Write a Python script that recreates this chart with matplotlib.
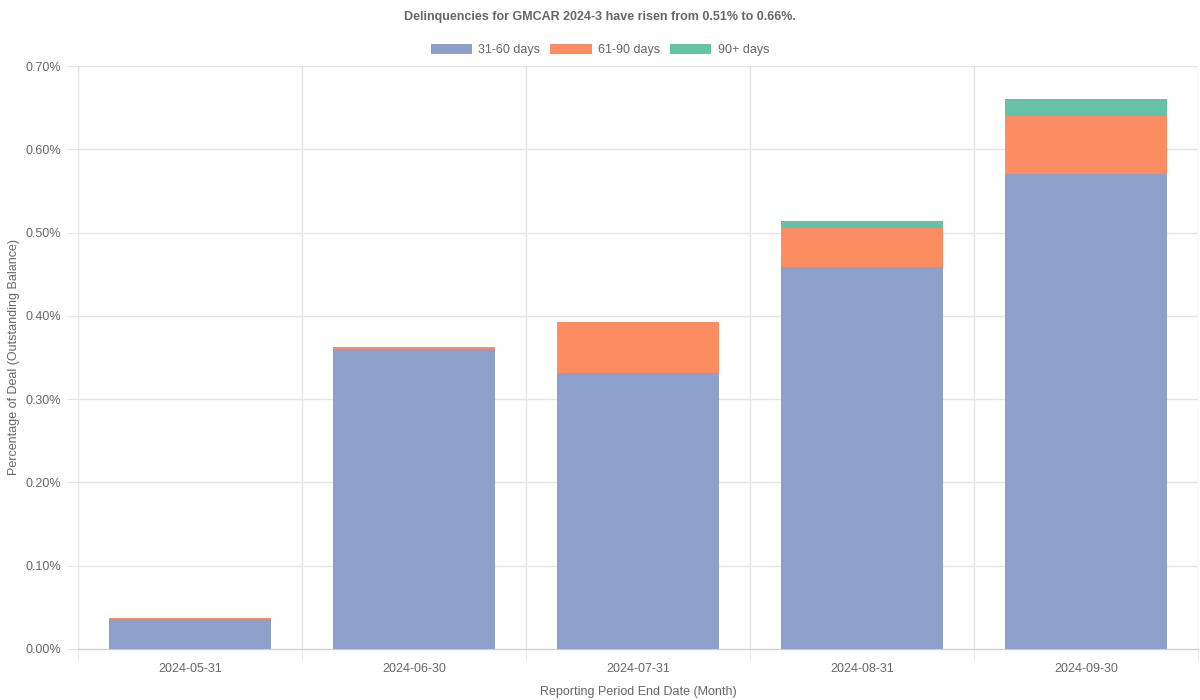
import matplotlib.pyplot as plt
from matplotlib.patches import Patch
from matplotlib.ticker import FuncFormatter, MultipleLocator, FixedLocator
import numpy as np

plt.rcParams['font.family'] = ['Liberation Sans', 'DejaVu Sans']

# Data (percent of outstanding balance)
periods = ['2024-05-31', '2024-06-30', '2024-07-31', '2024-08-31', '2024-09-30']
d31_60 = [0.0356, 0.3600, 0.3313, 0.4586, 0.5706]
d61_90 = [0.0020, 0.0024, 0.0612, 0.0472, 0.0689]
d90p = [0.0000, 0.0000, 0.0000, 0.0080, 0.0208]

series = [('31-60 days', d31_60, '#8da0cb'),
          ('61-90 days', d61_90, '#fc8d62'),
          ('90+ days', d90p, '#66c2a5')]

text_col = '#666666'
grid_col = '#e5e5e5'

fig = plt.figure(figsize=(12, 7), dpi=100)
ax = fig.add_axes([0.065, 0.0729, 0.9333, 0.8328])

x = np.arange(len(periods))
bottom = np.zeros(len(periods))
for name, vals, col in series:
    ax.bar(x, vals, width=0.72, bottom=bottom, color=col, label=name, zorder=3)
    bottom += np.array(vals)

ax.set_xlim(-0.5, len(periods) - 0.5)
ax.set_ylim(0, 0.70)
ax.yaxis.set_major_locator(MultipleLocator(0.10))
ax.yaxis.set_major_formatter(FuncFormatter(lambda v, p: f'{v:.2f}%'))
ax.set_xticks(x)
ax.set_xticklabels(periods)
ax.xaxis.set_minor_locator(FixedLocator(np.arange(-0.5, len(periods), 1.0)))

ax.grid(True, axis='y', color=grid_col, linewidth=1, zorder=0)
ax.grid(True, axis='x', which='minor', color=grid_col, linewidth=1, zorder=0)
ax.tick_params(axis='x', which='major', length=0, pad=10, labelsize=9, labelcolor=text_col)
ax.tick_params(axis='x', which='minor', length=8, color=grid_col)
ax.tick_params(axis='y', length=8, color=grid_col, pad=4, labelsize=9, labelcolor=text_col)

for s in ['top', 'right']:
    ax.spines[s].set_visible(False)
ax.spines['left'].set_color(grid_col)
ax.spines['bottom'].set_color('#cccccc')

ax.set_xlabel('Reporting Period End Date (Month)', color=text_col, fontsize=9, labelpad=8)
ax.set_ylabel('Percentage of Deal (Outstanding Balance)', color=text_col, fontsize=9, labelpad=4)

fig.text(0.5, 1 - 17 / 700, 'Delinquencies for GMCAR 2024-3 have risen from 0.51% to 0.66%.',
         ha='center', va='center', fontsize=9, fontweight='bold', color=text_col)

handles = [Patch(facecolor=c, label=n) for n, v, c in series]
fig.legend(handles=handles, loc='center', bbox_to_anchor=(0.5, 1 - 50 / 700), ncol=3,
           frameon=False, fontsize=9, labelcolor=text_col, handlelength=3.3,
           handleheight=0.9, handletextpad=0.5, columnspacing=0.8)

fig.savefig('out.png', dpi=100)
